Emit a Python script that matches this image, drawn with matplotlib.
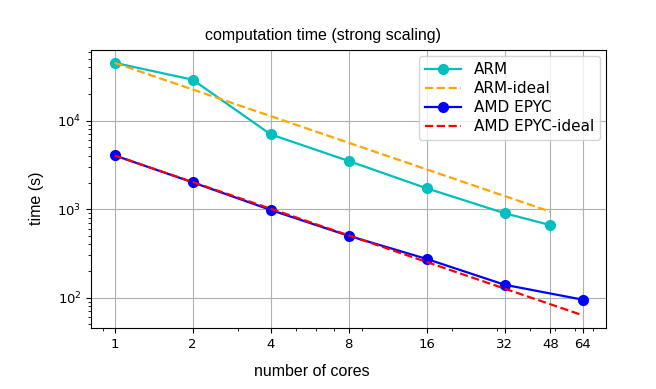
import numpy as np
import matplotlib.pyplot as plt
from matplotlib.ticker import FixedLocator, FixedFormatter

cores_arm = [1, 2, 4, 8, 16, 32, 48]
cores_amd = [1, 2, 4, 8, 16, 32, 64]
time_arm = [45000, 29000, 7000, 3500, 1720, 900, 660]
time_amd = [4050, 2010, 980, 500, 274, 140, 95]
xtick_vals = [1, 2, 4, 8, 16, 32, 48, 64]

ideal_arm = [time_arm[0] / c for c in cores_arm]
ideal_amd = [time_amd[0] / c for c in cores_amd]

fig = plt.figure(figsize=(6.56, 3.89), dpi=100)
ax = fig.add_axes([0.139, 0.157, 0.785, 0.714])

ax.plot(cores_arm, time_arm, '-o', color='c', markersize=7, lw=1.6, label='ARM')
ax.plot(cores_arm, ideal_arm, '--', color='orange', lw=1.6, label='ARM-ideal')
ax.plot(cores_amd, time_amd, '-o', color='blue', markersize=7, lw=1.6, label='AMD EPYC')
ax.plot(cores_amd, ideal_amd, '--', color='red', lw=1.6, label='AMD EPYC-ideal')

ax.set_xscale('log')
ax.set_yscale('log')
ax.xaxis.set_major_locator(FixedLocator(xtick_vals))
ax.xaxis.set_major_formatter(FixedFormatter([str(v) for v in xtick_vals]))
ax.grid(True, which='major', color='#b0b0b0', linewidth=0.8)
ax.tick_params(labelsize=9.5)

# titles placed like the original (centred on the figure, not the axes)
fig.text(0.492, 0.91, 'computation time (strong scaling)', family='Liberation Sans',
         fontsize=11.5, ha='center', va='center')
fig.text(0.476, 0.044, 'number of cores', family='Liberation Sans',
         fontsize=11.5, ha='center', va='center')
fig.text(0.055, 0.49, 'time (s)', family='Liberation Sans',
         fontsize=11.5, ha='center', va='center', rotation=90)
ax.legend(loc='upper right', fontsize=11, labelspacing=0.25, handlelength=2.4,
          borderaxespad=0.4)

fig.savefig('out.png', dpi=100)
